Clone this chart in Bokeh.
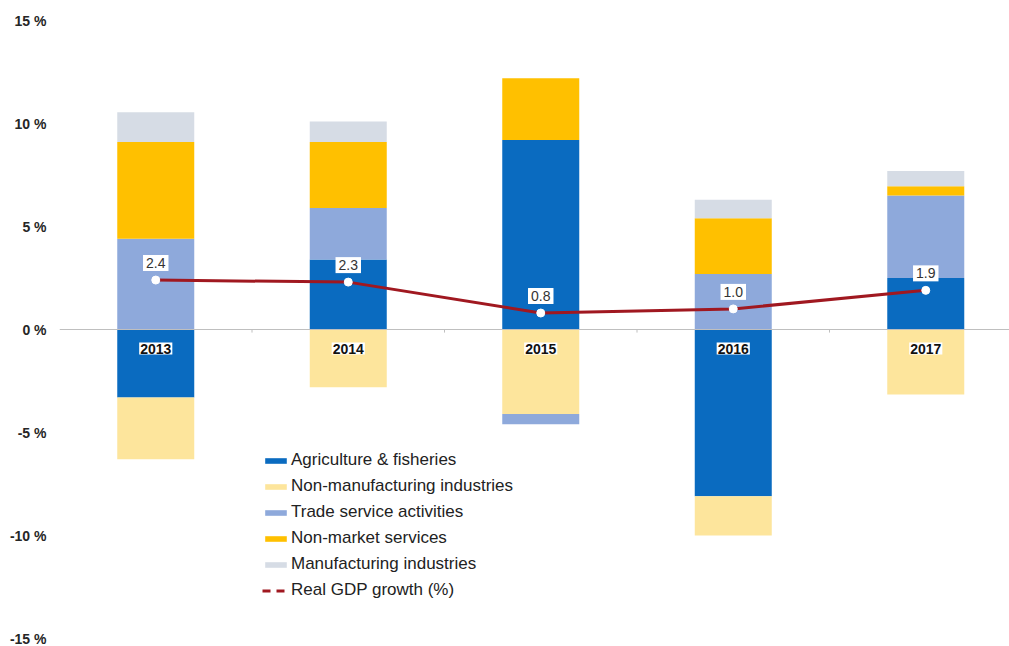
from bokeh.plotting import figure
from bokeh.models import (ColumnDataSource, Range1d, FixedTicker, PrintfTickFormatter,
                          Span, Legend, LegendItem)
from bokeh.core.properties import value
from bokeh.embed import file_html
from bokeh.resources import INLINE

years = ["2013", "2014", "2015", "2016", "2017"]
agriculture = [-3.3, 3.4, 9.2, -8.1, 2.5]
non_manufacturing = [-3.0, -2.8, -4.1, -1.9, -3.15]
trade_services = [4.4, 2.5, -0.5, 2.7, 4.0]
non_market = [4.7, 3.2, 3.0, 2.7, 0.45]
manufacturing = [1.45, 1.0, 0.0, 0.9, 0.75]
gdp_growth = [2.4, 2.3, 0.8, 1.0, 1.9]
y_ticks = [-15, -10, -5, 0, 5, 10, 15]

series = [
    ("Agriculture & fisheries", agriculture, "#0A6BC0"),
    ("Non-manufacturing industries", non_manufacturing, "#FDE59C"),
    ("Trade service activities", trade_services, "#8EA9DB"),
    ("Non-market services", non_market, "#FFC000"),
    ("Manufacturing industries", manufacturing, "#D6DCE5"),
]

FONT = "Liberation Sans"
xs = list(range(len(years)))

p = figure(width=1009, height=646, output_backend="svg", toolbar_location=None,
           x_range=Range1d(-0.5, 4.435), y_range=Range1d(-15, 15),
           min_border_left=59, min_border_right=0, min_border_top=20, min_border_bottom=8)
p.outline_line_color = None
p.xgrid.visible = False
p.ygrid.visible = False
p.xaxis.visible = False
p.background_fill_color = "white"
p.border_fill_color = "white"

ya = p.yaxis[0]
ya.ticker = FixedTicker(ticks=y_ticks)
ya.formatter = PrintfTickFormatter(format="%d %%")
ya.axis_line_color = None
ya.major_tick_line_color = None
ya.minor_tick_line_color = None
ya.major_tick_out = 0
ya.major_tick_in = 0
ya.minor_tick_out = 0
ya.major_label_standoff = 13
ya.major_label_text_font = FONT
ya.major_label_text_font_style = "bold"
ya.major_label_text_font_size = "14px"
ya.major_label_text_color = "#262626"

p.add_layout(Span(location=0, dimension="width", line_color="#BFBFBF", line_width=1))
bx = [i + 0.5 for i in xs[:-1]]
p.segment(x0=bx, y0=[0] * len(bx), x1=bx, y1=[-0.15] * len(bx), line_color="#BFBFBF", line_width=1)

pos = [0.0] * len(years)
neg = [0.0] * len(years)
items = []
for name, vals, color in series:
    bottoms, tops = [], []
    for i, v in enumerate(vals):
        if v >= 0:
            bottoms.append(pos[i]); tops.append(pos[i] + v); pos[i] += v
        else:
            tops.append(neg[i]); bottoms.append(neg[i] + v); neg[i] += v
    src = ColumnDataSource(dict(x=xs, bottom=bottoms, top=tops))
    r = p.vbar(x="x", bottom="bottom", top="top", width=0.4, source=src,
               fill_color=color, line_color=None)
    items.append(LegendItem(label=name, renderers=[r]))

line_color = "#A01820"
p.line(xs, gdp_growth, line_color=line_color, line_width=3)
p.scatter(xs, gdp_growth, size=8, fill_color="white", line_color="white")
dummy = p.line([float("nan")], [float("nan")], line_color=line_color, line_width=3, line_dash="8 6")
items.append(LegendItem(label="Real GDP growth (%)", renderers=[dummy]))

p.text(xs, gdp_growth, text=[f"{v:.1f}" for v in gdp_growth], text_font=value(FONT),
       text_font_size="14px", text_color="#333333", text_align="center", text_baseline="middle",
       y_offset=-17, background_fill_color="white", padding=3)
p.text(xs, [0] * len(xs), text=years, text_font=value(FONT), text_font_style="bold",
       text_font_size="14px", text_color="#111111", text_align="center", text_baseline="middle",
       y_offset=19, background_fill_color="white", padding=1)

legend = Legend(items=items, location=(203, 38), orientation="vertical",
                glyph_width=27, glyph_height=7, label_height=20, spacing=6,
                label_standoff=2, padding=0, margin=0,
                label_text_font=FONT, label_text_font_size="17px", label_text_color="#222222",
                border_line_color=None, background_fill_alpha=0)
p.add_layout(legend)

open("out.html", "w").write(file_html(p, INLINE))
